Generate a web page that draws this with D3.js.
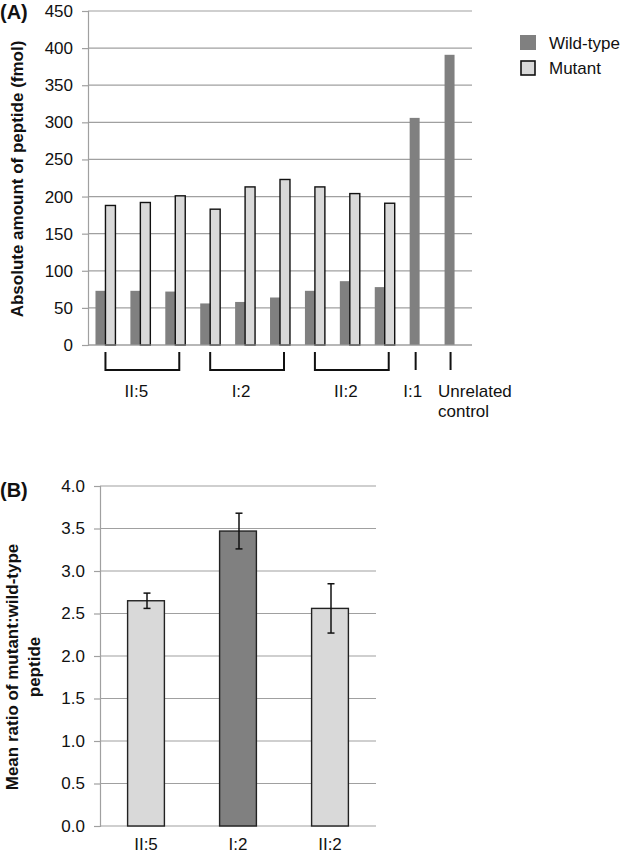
<!DOCTYPE html>
<html>
<head>
<meta charset="utf-8">
<script src="https://cdn.jsdelivr.net/npm/d3@7/dist/d3.min.js"></script>
<style>
  html, body { margin: 0; padding: 0; background: #fff; }
  svg { display: block; font-family: "Liberation Sans", Arial, sans-serif; }
</style>
</head>
<body>
<svg id="chart" width="622" height="855"></svg>
<script>
// ---------- Data: panel A ----------
const categoriesA = ["II:5-1","II:5-2","II:5-3","I:2-1","I:2-2","I:2-3","II:2-1","II:2-2","II:2-3","I:1","Unrelated control"];
const wildType = [73, 73, 72, 56, 58, 64, 73, 86, 78, 306, 391];
const mutant   = [188, 192, 201, 183, 213, 223, 213, 204, 191, null, null];
const seriesA = ["Wild-type", "Mutant"];
const ticksA = [0, 50, 100, 150, 200, 250, 300, 350, 400, 450];
const groupLabels = ["II:5", "I:2", "II:2", "I:1", "Unrelated control"];
const groupStart = [0, 3, 6, 9, 10];
const groupEnd   = [2, 5, 8, 9, 10];

// ---------- Data: panel B ----------
const categoriesB = ["II:5", "I:2", "II:2"];
const meanRatio = [2.65, 3.47, 2.56];
const ratioErr  = [0.09, 0.21, 0.29];
const ticksB = [0.0, 0.5, 1.0, 1.5, 2.0, 2.5, 3.0, 3.5, 4.0];

const WT_FILL = "#808080", MUT_FILL = "#d9d9d9", GRID = "#a0a0a0", TXT = "#111";

const svg = d3.select("#chart");

// ================= Panel A =================
const A = { left: 88, right: 472, top: 11, bottom: 345 };
const xA = d3.scaleBand().domain(d3.range(categoriesA.length)).range([A.left, A.right]).paddingInner(0).paddingOuter(0);
const xSub = d3.scaleBand().domain(seriesA).range([0, xA.bandwidth()]).paddingInner(0).paddingOuter(0.75);
const yA = d3.scaleLinear().domain([0, 450]).range([A.bottom, A.top]);

const gA = svg.append("g");
// gridlines
gA.append("g").selectAll("line").data(ticksA).join("line")
  .attr("x1", A.left).attr("x2", A.right)
  .attr("y1", d => yA(d)).attr("y2", d => yA(d))
  .attr("stroke", GRID).attr("stroke-width", 1.2);
// axis
const axA = gA.append("g").attr("transform", `translate(${A.left},0)`)
  .call(d3.axisLeft(yA).tickValues(ticksA).tickSize(6).tickPadding(9).tickFormat(d3.format("d")));
axA.select(".domain").attr("stroke", GRID).attr("stroke-width", 1.2);
axA.selectAll(".tick line").attr("stroke", GRID).attr("stroke-width", 1.2);
axA.selectAll(".tick text").attr("font-size", 17).attr("fill", TXT).attr("font-family", "Liberation Sans, Arial, sans-serif");

// bars
const barsA = gA.append("g");
barsA.selectAll("rect.wt").data(wildType).join("rect").attr("class", "wt")
  .attr("x", (d, i) => xA(i) + xSub("Wild-type"))
  .attr("width", xSub.bandwidth())
  .attr("y", d => yA(d)).attr("height", d => yA(0) - yA(d))
  .attr("fill", WT_FILL);
barsA.selectAll("rect.mut").data(mutant.map((v, i) => ({ v, i })).filter(d => d.v != null)).join("rect").attr("class", "mut")
  .attr("x", d => xA(d.i) + xSub("Mutant"))
  .attr("width", xSub.bandwidth())
  .attr("y", d => yA(d.v)).attr("height", d => yA(0) - yA(d.v))
  .attr("fill", MUT_FILL).attr("stroke", "#111").attr("stroke-width", 1.4);

// baseline over bars
gA.append("line").attr("x1", A.left).attr("x2", A.right).attr("y1", yA(0)).attr("y2", yA(0))
  .attr("stroke", GRID).attr("stroke-width", 1.2);

// brackets & group labels
const bTop = 352, bBot = 370;
const gBr = gA.append("g").attr("fill", "none").attr("stroke", "#111").attr("stroke-width", 2);
groupLabels.forEach((lab, k) => {
  const s = groupStart[k], e = groupEnd[k];
  if (s !== e) {
    const x1 = xA(s) + xA.bandwidth() / 2;
    const x2 = xA(e) + xA.bandwidth() / 2 + 4;
    gBr.append("path").attr("d", `M${x1},${bTop}V${bBot}H${x2}V${bTop}`);
    gA.append("text").attr("x", (x1 + x2) / 2 - 6).attr("y", 397)
      .attr("text-anchor", "middle").attr("font-size", 17).attr("fill", TXT).text(lab);
  } else {
    const xc = xA(s) + xSub("Wild-type") + xSub.bandwidth() / 2 + 1;
    gBr.append("line").attr("x1", xc).attr("x2", xc).attr("y1", bTop).attr("y2", bBot);
    const words = lab.split(" ");
    if (words.length === 1) {
      gA.append("text").attr("x", xc - 3).attr("y", 397)
        .attr("text-anchor", "middle").attr("font-size", 17).attr("fill", TXT).text(lab);
    } else {
      const t = gA.append("text").attr("x", xA(s) + 1).attr("y", 397)
        .attr("text-anchor", "start").attr("font-size", 17).attr("fill", TXT);
      words.forEach((w, j) => t.append("tspan").attr("x", xA(s) + 1).attr("dy", j === 0 ? 0 : 19.5).text(w));
    }
  }
});

// y title A
svg.append("text").attr("transform", "translate(23,179) rotate(-90)")
  .attr("text-anchor", "middle").attr("font-size", 17).attr("font-weight", "bold").attr("fill", TXT)
  .text("Absolute amount of peptide (fmol)");
// panel label
svg.append("text").attr("x", 0).attr("y", 19).attr("font-size", 20).attr("font-weight", "bold").attr("fill", TXT).text("(A)");

// legend
const leg = svg.append("g");
seriesA.forEach((s, i) => {
  const y0 = 35 + i * 25;
  leg.append("rect").attr("x", i === 0 ? 520 : 521).attr("y", i === 0 ? y0 : y0 + 1)
    .attr("width", i === 0 ? 16 : 14).attr("height", i === 0 ? 15 : 14)
    .attr("fill", i === 0 ? WT_FILL : MUT_FILL)
    .attr("stroke", i === 0 ? "none" : "#111").attr("stroke-width", 1.6);
  leg.append("text").attr("x", 549).attr("y", y0 + 14).attr("font-size", 17).attr("fill", TXT).text(s);
});

// ================= Panel B =================
const B = { left: 100, right: 376, top: 486, bottom: 826 };
const xB = d3.scaleBand().domain(categoriesB).range([B.left, B.right]).paddingInner(0.6).paddingOuter(0.3);
const yB = d3.scaleLinear().domain([0, 4]).range([B.bottom, B.top]);
const gB = svg.append("g");
gB.append("g").selectAll("line").data(ticksB).join("line")
  .attr("x1", B.left).attr("x2", B.right)
  .attr("y1", d => yB(d)).attr("y2", d => yB(d))
  .attr("stroke", GRID).attr("stroke-width", 1.2);
const axB = gB.append("g").attr("transform", `translate(${B.left},0)`)
  .call(d3.axisLeft(yB).tickValues(ticksB).tickSize(6).tickPadding(9).tickFormat(d3.format(".1f")));
axB.select(".domain").attr("stroke", GRID).attr("stroke-width", 1.2);
axB.selectAll(".tick line").attr("stroke", GRID).attr("stroke-width", 1.2);
axB.selectAll(".tick text").attr("font-size", 17).attr("fill", TXT).attr("font-family", "Liberation Sans, Arial, sans-serif");

gB.selectAll("rect.bar").data(categoriesB).join("rect").attr("class", "bar")
  .attr("x", d => xB(d)).attr("width", xB.bandwidth())
  .attr("y", (d, i) => yB(meanRatio[i])).attr("height", (d, i) => yB(0) - yB(meanRatio[i]))
  .attr("fill", (d, i) => i === 1 ? WT_FILL : MUT_FILL)
  .attr("stroke", "#222").attr("stroke-width", 1.4);

// error bars
const gE = gB.append("g").attr("stroke", "#111").attr("stroke-width", 1.5);
categoriesB.forEach((c, i) => {
  const xc = xB(c) + xB.bandwidth() / 2 + 1;
  const hi = yB(meanRatio[i] + ratioErr[i]), lo = yB(meanRatio[i] - ratioErr[i]);
  gE.append("line").attr("x1", xc).attr("x2", xc).attr("y1", hi).attr("y2", lo);
  gE.append("line").attr("x1", xc - 3.5).attr("x2", xc + 3.5).attr("y1", hi).attr("y2", hi);
  gE.append("line").attr("x1", xc - 3.5).attr("x2", xc + 3.5).attr("y1", lo).attr("y2", lo);
});

// x labels B
gB.selectAll("text.xl").data(categoriesB).join("text").attr("class", "xl")
  .attr("x", d => xB(d) + xB.bandwidth() / 2).attr("y", 850)
  .attr("text-anchor", "middle").attr("font-size", 17).attr("fill", TXT).text(d => d);

// y title B
const tB = svg.append("text").attr("transform", "translate(18,667) rotate(-90)")
  .attr("text-anchor", "middle").attr("font-size", 17).attr("font-weight", "bold").attr("fill", TXT);
tB.append("tspan").attr("x", 0).attr("y", 0).text("Mean ratio of mutant:wild-type");
tB.append("tspan").attr("x", 0).attr("y", 21.6).text("peptide");

svg.append("text").attr("x", 0).attr("y", 497).attr("font-size", 20).attr("font-weight", "bold").attr("fill", TXT).text("(B)");
</script>
</body>
</html>
